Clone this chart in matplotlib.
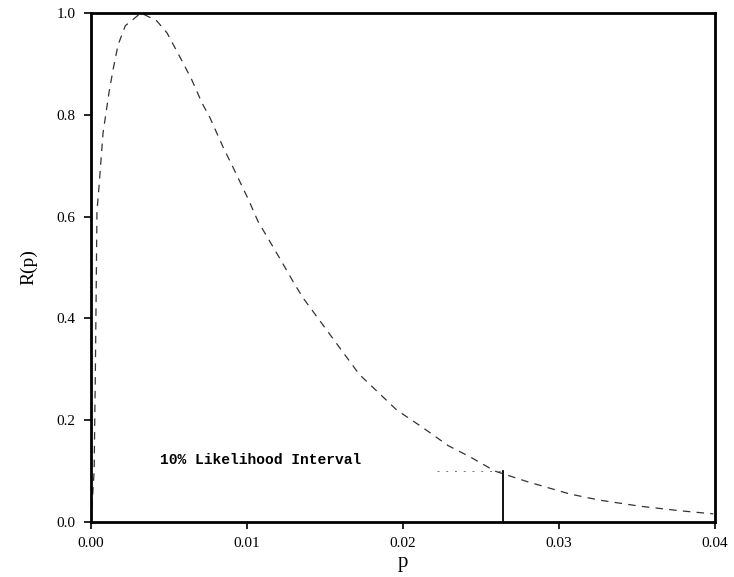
import matplotlib
matplotlib.use("Agg")
import matplotlib.pyplot as plt

# relative likelihood curve
p_vals = [0.0, 0.0002, 0.00028, 0.00033, 0.00038, 0.00051, 0.00077, 0.00115,
          0.00141, 0.00173, 0.0022, 0.0032, 0.0042, 0.00487, 0.0059, 0.00647,
          0.00712, 0.00763, 0.00846, 0.0091, 0.0101, 0.0107, 0.0121, 0.0130,
          0.0136, 0.0172, 0.0196, 0.0212, 0.0229, 0.0243, 0.0259, 0.0280,
          0.0307, 0.0326, 0.0352, 0.0378, 0.0399]
r_vals = [0.0, 0.10, 0.30, 0.45, 0.61, 0.658, 0.764, 0.843,
          0.888, 0.937, 0.975, 1.0, 0.985, 0.961, 0.902, 0.868,
          0.823, 0.794, 0.737, 0.697, 0.633, 0.591, 0.518, 0.47,
          0.44, 0.29, 0.22, 0.187, 0.15, 0.128, 0.10, 0.079,
          0.055, 0.043, 0.031, 0.022, 0.016]

interval_upper = 0.0264
interval_level = 0.1
annotation = "10% Likelihood Interval"

x_ticks = [0.00, 0.01, 0.02, 0.03, 0.04]
x_labels = ["0.00", "0.01", "0.02", "0.03", "0.04"]
y_ticks = [0.0, 0.2, 0.4, 0.6, 0.8, 1.0]
y_labels = ["0.0", "0.2", "0.4", "0.6", "0.8", "1.0"]

fig = plt.figure(figsize=(7.34, 5.77), dpi=100)
ax = fig.add_axes([0.124, 0.0953, 0.850, 0.8822])

ax.plot(p_vals, r_vals, color="#333333", lw=0.9, ls=(0, (6, 5)))
ax.plot([interval_upper, interval_upper], [0, interval_level], color="black", lw=1.3)
ax.plot([0.0222, interval_upper], [interval_level, interval_level], color="#777777",
        lw=0.7, ls=(0, (2, 7)))
ax.text(0.0044, 0.114, annotation, family="Liberation Mono", fontsize=10.5,
        fontweight="bold", color="black")

ax.set_xlim(0, 0.04)
ax.set_ylim(0, 1.0)
ax.set_xticks(x_ticks)
ax.set_xticklabels(x_labels, family="Liberation Serif", fontsize=11)
ax.set_yticks(y_ticks)
ax.set_yticklabels(y_labels, family="Liberation Serif", fontsize=11)
ax.tick_params(direction="out", length=5, width=1.2, pad=6)
for s in ax.spines.values():
    s.set_linewidth(2)

ax.set_xlabel("p", family="Liberation Serif", fontsize=15, labelpad=2)
ax.set_ylabel("R(p)", family="Liberation Serif", fontsize=14, labelpad=14)

fig.savefig("out.png", dpi=100)
